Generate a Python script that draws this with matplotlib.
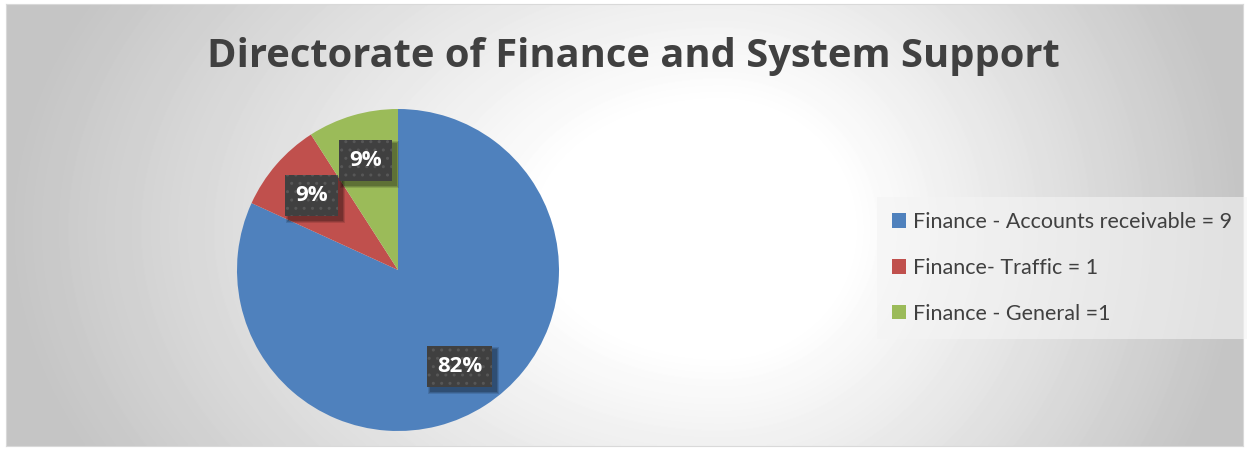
import matplotlib.pyplot as plt
import matplotlib.patches as mpatches
import matplotlib.transforms as mtransforms
import numpy as np

# chart data
labels = ['Finance - Accounts receivable = 9', 'Finance- Traffic = 1', 'Finance - General =1']
values = [9, 1, 1]
colors = ['#4f81bd', '#c0504d', '#9bbb59']
title = 'Directorate of Finance and System Support'

W, H = 1249, 450
fig = plt.figure(figsize=(W / 100, H / 100), dpi=100, facecolor='white')
plt.rcParams['hatch.color'] = '#575757'
plt.rcParams['hatch.linewidth'] = 1.0

# gradient background of the chart area (white centre, grey edges)
bg = fig.add_axes([6 / W, 4 / H, 1237 / W, 442 / H])
yy, xx = np.mgrid[0:442, 0:1237]
dx = xx - 714.0
sx = np.where(dx < 0, 714.0, 523.0)
d = np.sqrt((dx / sx) ** 2 + ((yy - 225.0) / 500.0) ** 2)
g = 1.0 - 0.23 * np.clip((d - 0.25) / 0.75, 0, 1)
bg.imshow(g, cmap='gray', vmin=0, vmax=1, aspect='auto', interpolation='bilinear')
bg.set_xticks([])
bg.set_yticks([])
for s in bg.spines.values():
    s.set_color('#d9d9d9')

fig.text(633 / W, 1 - 56 / H, title, ha='center', va='center', fontsize=28.7,
         fontweight='bold', color='#404040', family=['Open Sans', 'DejaVu Sans'])

# pie
cx, cy, r = 398, 270, 161
ax = fig.add_axes([(cx - r) / W, (H - cy - r) / H, 2 * r / W, 2 * r / H])
wedges, texts, autotexts = ax.pie(values, colors=colors, startangle=90, counterclock=False,
                                  autopct='%1.0f%%', pctdistance=0.71,
                                  textprops=dict(color='white', fontsize=16, fontweight='bold',
                                                 family=['Open Sans', 'DejaVu Sans'], zorder=4))
ax.set_xlim(-1, 1)
ax.set_ylim(-1, 1)
ax.set_aspect('equal')

# dark dotted label boxes
for t in autotexts:
    t.set_bbox(dict(boxstyle='square,pad=0.45', facecolor='#404040', edgecolor='#575757',
                    hatch='..', linewidth=0))

leg = ax.legend(wedges, labels, loc='center left', bbox_to_anchor=(877 / W, 1 - 268 / H),
                bbox_transform=fig.transFigure, frameon=True, fancybox=False,
                handlelength=0.65, handleheight=0.65, handletextpad=0.3,
                labelspacing=1.2, borderpad=0.7, borderaxespad=0,
                prop=dict(family=['Lato', 'DejaVu Sans'], size=15.5))
leg.get_frame().set_facecolor('#f4f4f4')
leg.get_frame().set_alpha(0.6)
leg.get_frame().set_edgecolor('none')
for t in leg.get_texts():
    t.set_color('#404040')

# soft shadow behind each label box
fig.canvas.draw()
renderer = fig.canvas.get_renderer()
for t in autotexts:
    bb = t.get_bbox_patch().get_window_extent(renderer)
    for k, a in [(3, 0.12), (2, 0.15), (1, 0.18)]:
        sh = mpatches.Rectangle((bb.x0 + 4 - k, bb.y0 - 4 - k), bb.width + 2 * k, bb.height + 2 * k,
                                transform=mtransforms.IdentityTransform(), facecolor='black',
                                alpha=a, linewidth=0, zorder=3, clip_on=False)
        ax.add_patch(sh)

fig.savefig('out.png', dpi=100, facecolor='white')
